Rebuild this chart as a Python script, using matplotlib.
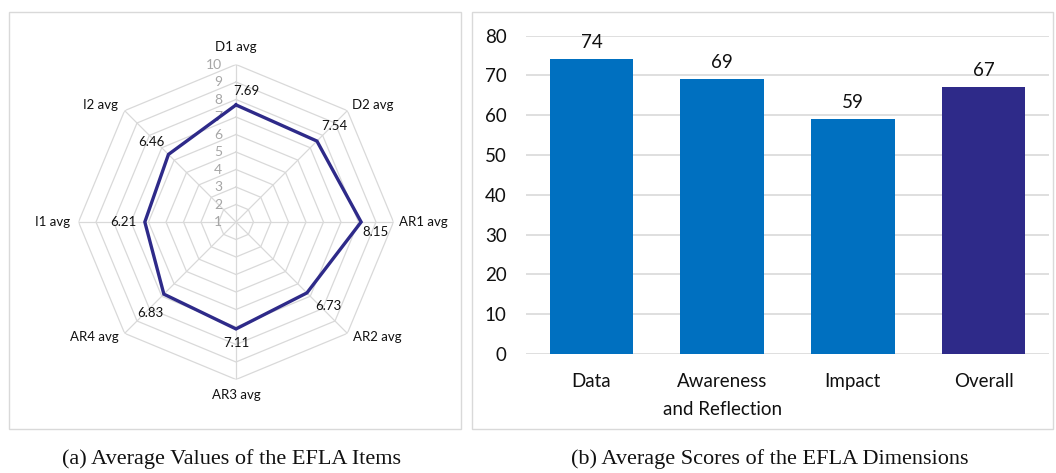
import numpy as np
import matplotlib.pyplot as plt
from matplotlib.patches import Rectangle

# EFLA item averages (radar)
items = ['D1 avg', 'D2 avg', 'AR1 avg', 'AR2 avg', 'AR3 avg', 'AR4 avg', 'I1 avg', 'I2 avg']
item_vals = [7.69, 7.54, 8.15, 6.73, 7.11, 6.83, 6.21, 6.46]

# EFLA dimension scores (bars)
dims = ['Data', 'Awareness\nand Reflection', 'Impact', 'Overall']
dim_vals = [74, 69, 59, 67]
ring_ticks = list(range(1, 11))
bar_ticks = list(range(0, 90, 10))

W, H = 1056, 473
fig = plt.figure(figsize=(W / 100, H / 100), dpi=100)
font = 'Lato'
grid_col = '#D9D9D9'
navy = '#2E2A89'
blue = '#0070C0'

def px(x0, y0, x1, y1):
    # pixel box (top-left origin) -> figure fraction rect
    return [x0 / W, 1 - y1 / H, (x1 - x0) / W, (y1 - y0) / H]

# panel frames
for x0, y0, x1, y1 in [(9, 12, 461, 429), (472, 12, 1053, 429)]:
    fig.patches.append(Rectangle((x0 / W, 1 - y1 / H), (x1 - x0) / W, (y1 - y0) / H,
                                 transform=fig.transFigure, fill=False,
                                 edgecolor=grid_col, lw=1))

# ---- radar ----
cx, cy, R = 236, 222, 157.5
ax = fig.add_axes(px(cx - R, cy - R, cx + R, cy + R), projection='polar')
ax.set_theta_zero_location('N')
ax.set_theta_direction(-1)
ax.set_rlim(1, 10)
ax.grid(False)
ax.set_xticks([])
ax.set_yticks([])
ax.spines['polar'].set_visible(False)
ax.patch.set_alpha(0)

n = len(items)
ang = np.linspace(0, 2 * np.pi, n, endpoint=False)
ang_c = np.append(ang, ang[0])
for r in ring_ticks[1:]:
    ax.plot(ang_c, [r] * (n + 1), color=grid_col, lw=0.9, zorder=1)
for a in ang:
    ax.plot([a, a], [1, 10], color=grid_col, lw=0.9, zorder=1)

for r in ring_ticks:
    ax.annotate(str(r), xy=(0, r), xytext=(-14, 0), textcoords='offset pixels',
                ha='right', va='center', fontsize=10, color='#A6A6A6', family=font)

vals_c = item_vals + item_vals[:1]
ax.plot(ang_c, vals_c, color=navy, lw=2.4, zorder=3, solid_joinstyle='miter')

val_off = [(10, 14), (17, 15), (14, -10), (21, -13), (0, -14), (-13, -19), (-21, 0), (-17, 12)]
for a, v, off in zip(ang, item_vals, val_off):
    ax.annotate(f'{v:.2f}', xy=(a, v), xytext=off, textcoords='offset pixels',
                ha='center', va='center', fontsize=9.5, color='#111111', family=font)

lab_off = [(0, 17.5), (25, 6), (30, 0), (30, -4), (0, -15.5), (-30.5, -4), (-25.5, 0), (-24.5, 6)]
for a, name, off in zip(ang, items, lab_off):
    ax.annotate(name, xy=(a, 10), xytext=off, textcoords='offset pixels',
                ha='center', va='center', fontsize=9.5, color='#111111', family=font)

# ---- bars ----
bx = fig.add_axes(px(526, 35.5, 1049, 354))
x = np.arange(len(dims))
colors = [blue, blue, blue, navy]
bars = bx.bar(x, dim_vals, width=0.64, color=colors, zorder=3)
bx.bar_label(bars, labels=[str(v) for v in dim_vals], padding=6,
             fontsize=13.5, color='#111111', family=font)
bx.set_xlim(-0.5, len(dims) - 0.5)
bx.set_ylim(0, 80)
bx.set_yticks(bar_ticks)
bx.set_xticks(x)
bx.set_xticklabels(dims, fontsize=13.5, family=font, color='#111111', linespacing=1.75)
bx.tick_params(axis='y', length=0, pad=14, labelsize=13.5, labelcolor='#111111')
bx.tick_params(axis='x', length=0, pad=14)
for lab in bx.get_yticklabels():
    lab.set_family(font)
bx.grid(axis='y', color=grid_col, lw=1.2, zorder=0)
for s in bx.spines.values():
    s.set_visible(False)

# captions
cap = dict(fontsize=16, family='Liberation Serif', color='#111111', ha='center', va='center')
fig.text(232 / W, 1 - 459 / H, '(a) Average Values of the EFLA Items', **cap)
fig.text(770 / W, 1 - 459 / H, '(b) Average Scores of the EFLA Dimensions', **cap)

fig.savefig('out.png', dpi=100)
